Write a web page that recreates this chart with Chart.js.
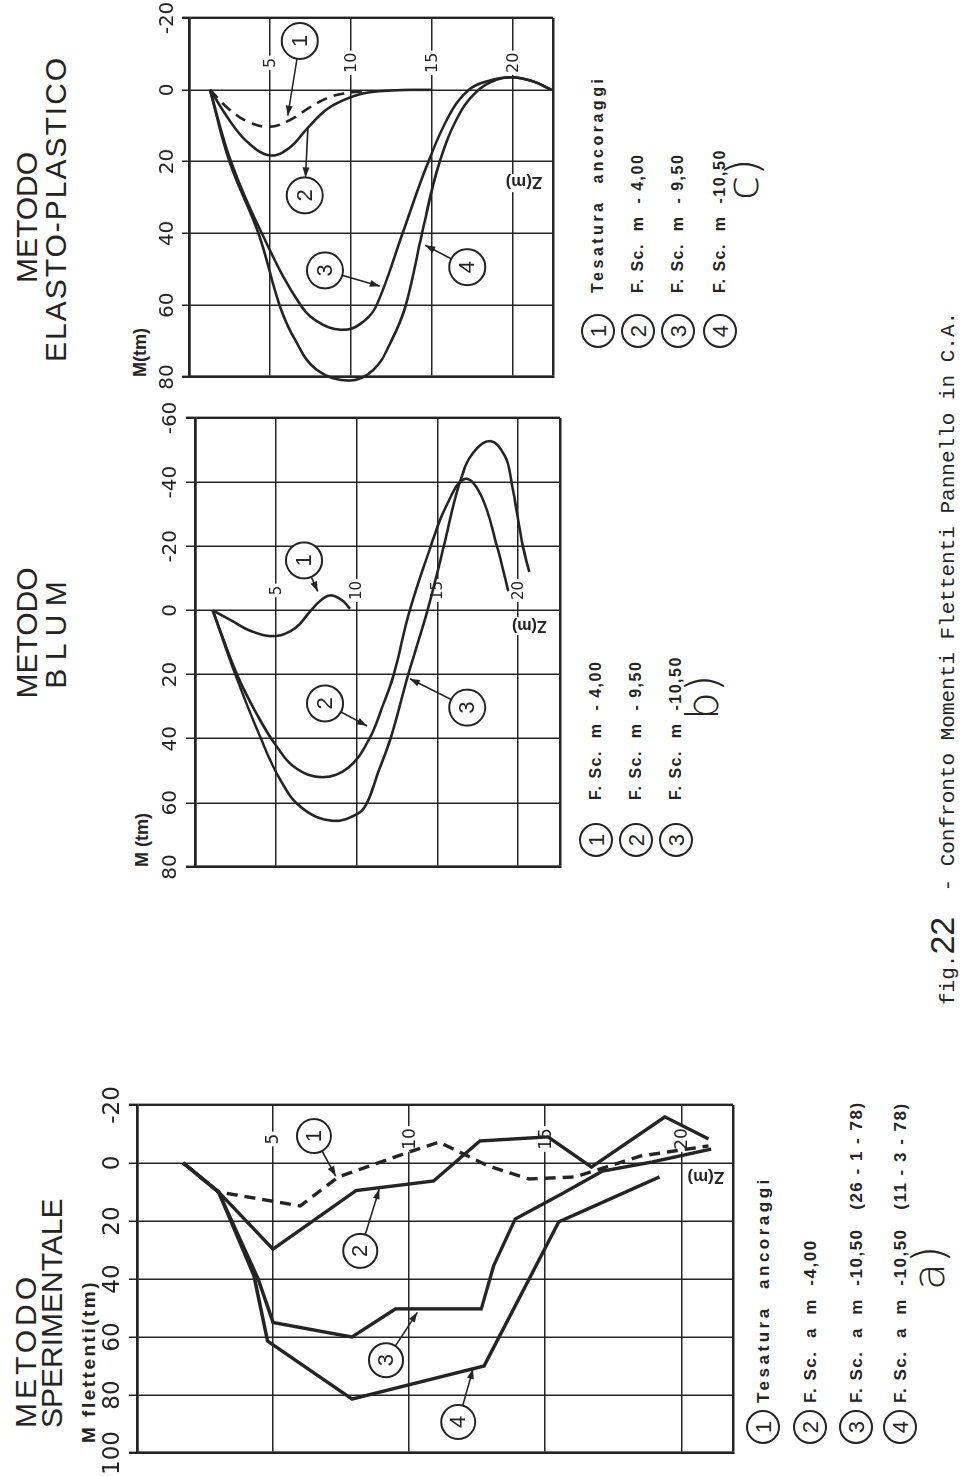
<!DOCTYPE html>
<html>
<head>
<meta charset="utf-8">
<script src="https://cdn.jsdelivr.net/npm/chart.js@4.4.1/dist/chart.umd.min.js"></script>
<style>
  html, body { margin: 0; padding: 0; background: #fff; }
  body { width: 969px; height: 1476px; overflow: hidden; position: relative; }
  /* the figure is laid out upright, then turned a quarter turn like the printed page */
  #sheet {
    position: absolute; left: 0; top: 0; width: 1476px; height: 969px;
    transform-origin: 0 0; transform: translate(0px, 1476px) rotate(-90deg);
    font-family: "Liberation Sans", Arial, sans-serif; color: #242424;
  }
  #sheet canvas { position: absolute; }
  .t { position: absolute; white-space: pre; line-height: 1; }
  .ttl { font-size: 30px; }
  .unit { font-size: 19px; font-weight: bold; }
  .leg { font-size: 17px; font-weight: bold; letter-spacing: 1.5px; }
  .leg.wide { letter-spacing: 3.5px; }
  .circ {
    position: absolute; width: 30px; height: 30px; border: 2px solid #242424; border-radius: 50%;
    text-align: center; line-height: 31px; font-size: 22px;
  }
  .part { font-family: "DejaVu Sans", sans-serif; font-weight: 200; font-size: 44px; }
  .cap { font-family: "Liberation Mono", monospace; font-size: 21px; }
  .cap span { font-family: "Liberation Sans", sans-serif; font-size: 34px; }
</style>
</head>
<body>
<div id="sheet">
  <!-- a) -->
  <div class="t ttl" style="left:48px;top:11px;letter-spacing:4px">METODO</div>
  <div class="t ttl" style="left:48px;top:37px">SPERIMENTALE</div>
  <div class="t unit" style="left:33px;top:79px;letter-spacing:2.5px">M flettenti(tm)</div>
  <canvas id="chartA" width="403" height="653" style="left:-2px;top:92px"></canvas>
  <div id="legA"></div>
  <div class="t part" style="left:186px;top:907px">a)</div>

  <!-- b) -->
  <div class="t ttl" style="left:743px;top:12px;width:200px;text-align:center">METODO</div>
  <div class="t ttl" style="left:741px;top:41px;width:200px;text-align:center">B L U M</div>
  <div class="t unit" style="left:609px;top:133px;font-size:18px">M (tm)</div>
  <canvas id="chartB" width="504" height="422" style="left:584px;top:150px"></canvas>
  <div id="legB"></div>
  <div class="t part" style="left:756px;top:681px">b)</div>

  <!-- c) -->
  <div class="t ttl" style="left:1193px;top:12px">METODO</div>
  <div class="t ttl" style="left:1114px;top:41px;letter-spacing:2px">ELASTO-PLASTICO</div>
  <div class="t unit" style="left:1099px;top:131px;font-size:18px">M(tm)</div>
  <canvas id="chartC" width="406" height="421" style="left:1074px;top:144px"></canvas>
  <div id="legC"></div>
  <div class="t part" style="left:1276px;top:721px">c)</div>

  <div class="t cap" style="left:471px;top:925px">fig.<span>22</span>  - Confronto Momenti Flettenti Pannello in C.A.</div>
</div>

<script>
const ink = "#242424"

// ---- a) METODO SPERIMENTALE : depth Z (m) / bending moment M (tm)
const aMTicks = [-20, 0, 20, 40, 60, 80, 100]
const aZ1 = [1.7, 3.0, 6.0, 7.4, 10.0, 11.1, 12.9, 14.4, 16.1, 18.5, 21.0]
const aM1 = [0, 10, 14.8, 4.8, -3.8, -7.2, 1, 5.5, 4.8, -2.4, -5.9]
const aZ2 = [1.7, 3.0, 5.0, 8.05, 10.9, 12.6, 15.1, 16.7, 19.4, 21.0]
const aM2 = [0, 10, 29.7, 9.5, 6.2, -7.6, -9, 1.4, -15.9, -8.3]
const aZ3 = [1.7, 3.0, 4.45, 5.0, 7.9, 9.5, 12.65, 13.1, 13.9, 15.6, 17.1, 18.9, 21.1]
const aM3 = [0, 10, 40, 55, 60, 50.3, 50.3, 35.5, 19.3, 10.7, 2.8, -0.3, -4.8]
const aZ4 = [1.7, 3.0, 4.3, 4.8, 7.9, 12.75, 15.5, 19.2]
const aM4 = [0, 10, 39, 61.4, 81.4, 70, 20.3, 4.8]
const aLegend = ["Tesatura  ancoraggi", "F. Sc.  a  m  -4,00", "F. Sc.  a  m  -10,50   (26 - 1 - 78)", "F. Sc.  a  m  -10,50   (11 - 3 - 78)"]

// ---- b) METODO BLUM
const bMTicks = [-60, -40, -20, 0, 20, 40, 60, 80]
const bZ1 = [1.1, 2.2, 3.5, 5.0, 6.2, 7.1, 7.8, 8.4, 9.1, 9.6]
const bM1 = [0, 3, 6.5, 8, 5.5, 0.5, -3.2, -4.7, -3.2, -0.5]
const bZ2 = [1.1, 2.6, 3.9, 5.0, 6.2, 7.9, 9.5, 10.8, 11.6, 12.3, 13.3, 14.6, 15.5, 16.7, 17.7, 18.7, 19.4]
const bM2 = [0, 20, 33, 42, 49, 52, 49, 40, 30, 20, 0, -20, -32, -41, -36, -20, -6]
const bZ3 = [1.1, 2.5, 4.0, 5.3, 6.6, 8.5, 10.1, 10.65, 11.3, 12.1, 13.2, 14.4, 15.4, 16.4, 17.2, 18.3, 19.2, 19.6, 20.3, 20.7]
const bM3 = [0, 20, 39, 53, 61.5, 65.6, 63.3, 60, 51, 40, 20, 0, -20, -40, -49, -52.8, -48, -40, -20, -12]
const bLegend = ["F. Sc.  m  - 4,00", "F. Sc.  m  - 9,50", "F. Sc.  m  -10,50"]

// ---- c) METODO ELASTO-PLASTICO
const cMTicks = [-20, 0, 20, 40, 60, 80]
const cZ1 = [1.3, 2.5, 3.7, 5.0, 6.2, 7.5, 8.6, 9.6, 11.0]
const cM1 = [0, 5.5, 9, 10.3, 8.5, 4.8, 2.2, 1, 0.3]
const cZ2 = [1.3, 2.5, 3.6, 5.0, 6.2, 7.3, 8.5, 9.75, 11.0, 13.0, 15.0]
const cM2 = [0, 8.5, 14.5, 18.3, 16.2, 10.8, 5.5, 2.5, 0.8, 0.1, 0]
const cZ3 = [1.3, 2.6, 4.5, 6.9, 8.3, 9.75, 10.8, 11.6, 13.2, 14.8, 16.1, 17.3, 18.6, 20.0, 21.3, 22.4]
const cM3 = [0, 20, 40, 60, 65.5, 66.8, 64.5, 60, 40, 20, 7, 0, -2.6, -3.5, -2.3, 0]
const cZ4 = [1.3, 2.5, 4.3, 5.6, 6.6, 7.9, 9.9, 11.4, 12.5, 13.4, 14.4, 15.5, 16.8, 17.9, 19.0, 20.0, 21.3, 22.4]
const cM4 = [0, 20, 40, 60, 70, 78, 81, 78, 70, 60, 40, 20, 6, 0, -2.8, -3.5, -2.3, 0]
const cLegend = ["Tesatura  ancoraggi", "F. Sc.  m  - 4,00", "F. Sc.  m  - 9,50", "F. Sc.  m  -10,50"]

const zLabels = [5, 10, 15, 20]

function series(zs, ms) {
  return zs.map((z, i) => ({ x: ms[i], y: z }))
}

// depth labels sit on the M = 0 line, the axis name runs along it, numbered callouts point at the curves
const decorPlugin = {
  id: "decor",
  beforeDatasetsDraw(chart, args, o) {
    const { ctx, scales: { x, y } } = chart
    const x0 = x.getPixelForValue(0)
    ctx.save()
    ctx.font = o.zFont
    ctx.textAlign = "center"
    ctx.textBaseline = "middle"
    zLabels.forEach((z) => {
      const py = y.getPixelForValue(z)
      const px = x0 + o.zOffset
      const w = ctx.measureText(String(z)).width
      ctx.fillStyle = "#fff"
      ctx.fillRect(px - w / 2 - 2, py - 8, w + 4, 16)
      ctx.fillStyle = ink
      ctx.fillText(String(z), px, py + 1)
    })
    ctx.translate(x.getPixelForValue(o.zName.m), y.getPixelForValue(o.zName.z))
    ctx.rotate(-Math.PI / 2)
    ctx.font = o.nameFont
    const w = ctx.measureText("Z(m)").width
    ctx.fillStyle = "#fff"
    ctx.fillRect(-w / 2 - 3, -9, w + 6, 18)
    ctx.fillStyle = ink
    ctx.fillText("Z(m)", 0, 1)
    ctx.restore()
  },
  afterDatasetsDraw(chart, args, o) {
    const { ctx, scales: { x, y } } = chart
    ctx.save()
    o.callouts.forEach((c) => {
      const cx = x.getPixelForValue(c.m), cy = y.getPixelForValue(c.z)
      const tx = x.getPixelForValue(c.tm), ty = y.getPixelForValue(c.tz)
      const a = Math.atan2(ty - cy, tx - cx)
      const sx = cx + Math.cos(a) * o.r, sy = cy + Math.sin(a) * o.r
      ctx.strokeStyle = ink
      ctx.fillStyle = ink
      ctx.lineWidth = 1.6
      ctx.beginPath()
      ctx.moveTo(sx, sy)
      ctx.lineTo(tx, ty)
      ctx.stroke()
      // arrow head
      const hx = c.back ? sx : tx, hy = c.back ? sy : ty, ha = c.back ? a + Math.PI : a
      ctx.beginPath()
      ctx.moveTo(hx, hy)
      ctx.lineTo(hx - 10 * Math.cos(ha) + 3.5 * Math.sin(ha), hy - 10 * Math.sin(ha) - 3.5 * Math.cos(ha))
      ctx.lineTo(hx - 10 * Math.cos(ha) - 3.5 * Math.sin(ha), hy - 10 * Math.sin(ha) + 3.5 * Math.cos(ha))
      ctx.closePath()
      ctx.fill()
      ctx.beginPath()
      ctx.arc(cx, cy, o.r, 0, Math.PI * 2)
      ctx.fillStyle = "#fff"
      ctx.fill()
      ctx.lineWidth = 2
      ctx.stroke()
      ctx.fillStyle = ink
      ctx.font = "22px 'Liberation Sans'"
      ctx.textAlign = "center"
      ctx.textBaseline = "middle"
      ctx.fillText(String(c.n), cx, cy + 1)
    })
    ctx.restore()
  },
}

function makePanel(id, p) {
  const edge = (v, lo, hi) => (v === lo || v === hi ? 2.4 : 1.5)
  new Chart(document.getElementById(id), {
    type: "scatter",
    data: {
      datasets: p.curves.map((c) => ({
        data: series(c[0], c[1]),
        showLine: true,
        pointRadius: 0,
        borderColor: ink,
        borderWidth: p.lineWidth,
        borderDash: c[2] ? [11, 7] : [],
        tension: p.tension,
        fill: false,
        clip: 10,
      })),
    },
    options: {
      responsive: false,
      animation: false,
      events: [],
      layout: { padding: { left: p.pad[0], right: p.pad[1], top: 0, bottom: p.pad[3] } },
      scales: {
        x: {
          type: "linear",
          position: "top",
          reverse: true,
          min: p.mTicks[0],
          max: p.mTicks[p.mTicks.length - 1],
          afterBuildTicks: (s) => { s.ticks = p.mTicks.map((v) => ({ value: v })) },
          afterFit: (s) => { s.height = p.pad[2] },
          ticks: { color: ink, font: { family: "DejaVu Sans", size: p.tickSize }, padding: p.tickPad, maxRotation: 0, autoSkip: false },
          grid: {
            color: ink,
            lineWidth: (ctx) => edge(ctx.tick && ctx.tick.value, p.mTicks[0], p.mTicks[p.mTicks.length - 1]),
            tickLength: p.tickLen,
          },
          border: { display: true, color: ink, width: 2.4 },
        },
        y: {
          type: "linear",
          reverse: true,
          min: 0,
          max: p.zMax,
          afterBuildTicks: (s) => { s.ticks = [0, 5, 10, 15, 20, p.zMax].map((v) => ({ value: v })) },
          afterFit: (s) => { s.width = 0 },
          ticks: { display: false },
          grid: {
            color: ink,
            lineWidth: (ctx) => edge(ctx.tick && ctx.tick.value, 0, p.zMax),
            drawTicks: false,
          },
          border: { display: true, color: ink, width: 2.4 },
        },
      },
      plugins: {
        legend: { display: false },
        tooltip: { enabled: false },
        decor: p.decor,
      },
    },
    plugins: [decorPlugin],
  })
}

function makeLegend(id, labels, lay) {
  const box = document.getElementById(id)
  labels.forEach((txt, i) => {
    const cy = lay.cys[i]
    const c = document.createElement("div")
    c.className = "circ"
    c.style.left = lay.cx - 17 + "px"
    c.style.top = cy - 17 + "px"
    c.textContent = String(i + 1)
    box.appendChild(c)
    const t = document.createElement("div")
    t.className = "t leg" + (txt.startsWith("Tesatura") ? " wide" : "")
    t.style.fontSize = lay.size + "px"
    t.style.left = lay.textX + "px"
    t.style.top = cy + 6 - 0.85 * lay.size + "px"
    t.textContent = txt
    box.appendChild(t)
  })
}

makePanel("chartA", {
  curves: [[aZ1, aM1, true], [aZ2, aM2], [aZ3, aM3], [aZ4, aM4]],
  mTicks: aMTicks, zMax: 21.9, pad: [25, 30, 45, 12],
  tickSize: 23, tickLen: 8, tickPad: 2, lineWidth: 3.4, tension: 0,
  decor: {
    zFont: "17px 'DejaVu Sans'", zOffset: 24, nameFont: "bold 17px 'Liberation Sans'", zName: { z: 20.9, m: 5.2 }, r: 17,
    callouts: [
      { n: 1, z: 6.5, m: -9.3, tz: 7.3, tm: 4.5 },
      { n: 2, z: 8.2, m: 30.3, tz: 8.9, tm: 9 },
      { n: 3, z: 9.15, m: 68, tz: 10.3, tm: 51.5 },
      { n: 4, z: 11.8, m: 89.3, tz: 12.35, tm: 71 },
    ],
  },
})

makePanel("chartB", {
  curves: [[bZ1, bM1], [bZ2, bM2], [bZ3, bM3]],
  mTicks: bMTicks, zMax: 22.6, pad: [25, 30, 45, 12],
  tickSize: 20, tickLen: 9, tickPad: 3, lineWidth: 2.6, tension: 0.4,
  decor: {
    zFont: "15px 'DejaVu Sans'", zOffset: 20, nameFont: "bold 16px 'Liberation Sans'", zName: { z: 20.7, m: 4.9 }, r: 18,
    callouts: [
      { n: 1, z: 6.75, m: -15.6, tz: 7.6, tm: -5.9 },
      { n: 2, z: 8.05, m: 29, tz: 10.65, tm: 36 },
      { n: 3, z: 16.85, m: 30.3, tz: 13.3, tm: 21.3 },
    ],
  },
})

makePanel("chartC", {
  curves: [[cZ1, cM1, true], [cZ2, cM2], [cZ3, cM3], [cZ4, cM4]],
  mTicks: cMTicks, zMax: 22.5, pad: [25, 22, 45, 12],
  tickSize: 20, tickLen: 7, tickPad: 2, lineWidth: 2.6, tension: 0.4,
  decor: {
    zFont: "16px 'DejaVu Sans'", zOffset: 27, nameFont: "bold 17px 'Liberation Sans'", zName: { z: 20.7, m: 26 }, r: 18,
    callouts: [
      { n: 1, z: 6.85, m: -13.6, tz: 6.1, tm: 7.2 },
      { n: 2, z: 7.15, m: 29.4, tz: 7.35, tm: 10.8, back: true },
      { n: 3, z: 8.4, m: 50.3, tz: 11.8, tm: 54.7 },
      { n: 4, z: 17.2, m: 49.4, tz: 14.6, tm: 43.3 },
    ],
  },
})

makeLegend("legA", aLegend, { cx: 49, cys: [763, 810, 856, 900], textX: 73, size: 17 })
makeLegend("legB", bLegend, { cx: 636, cys: [596, 636, 676], textX: 676, size: 16 })
makeLegend("legC", cLegend, { cx: 1145, cys: [598, 638, 678, 720], textX: 1183, size: 16 })
</script>
</body>
</html>
